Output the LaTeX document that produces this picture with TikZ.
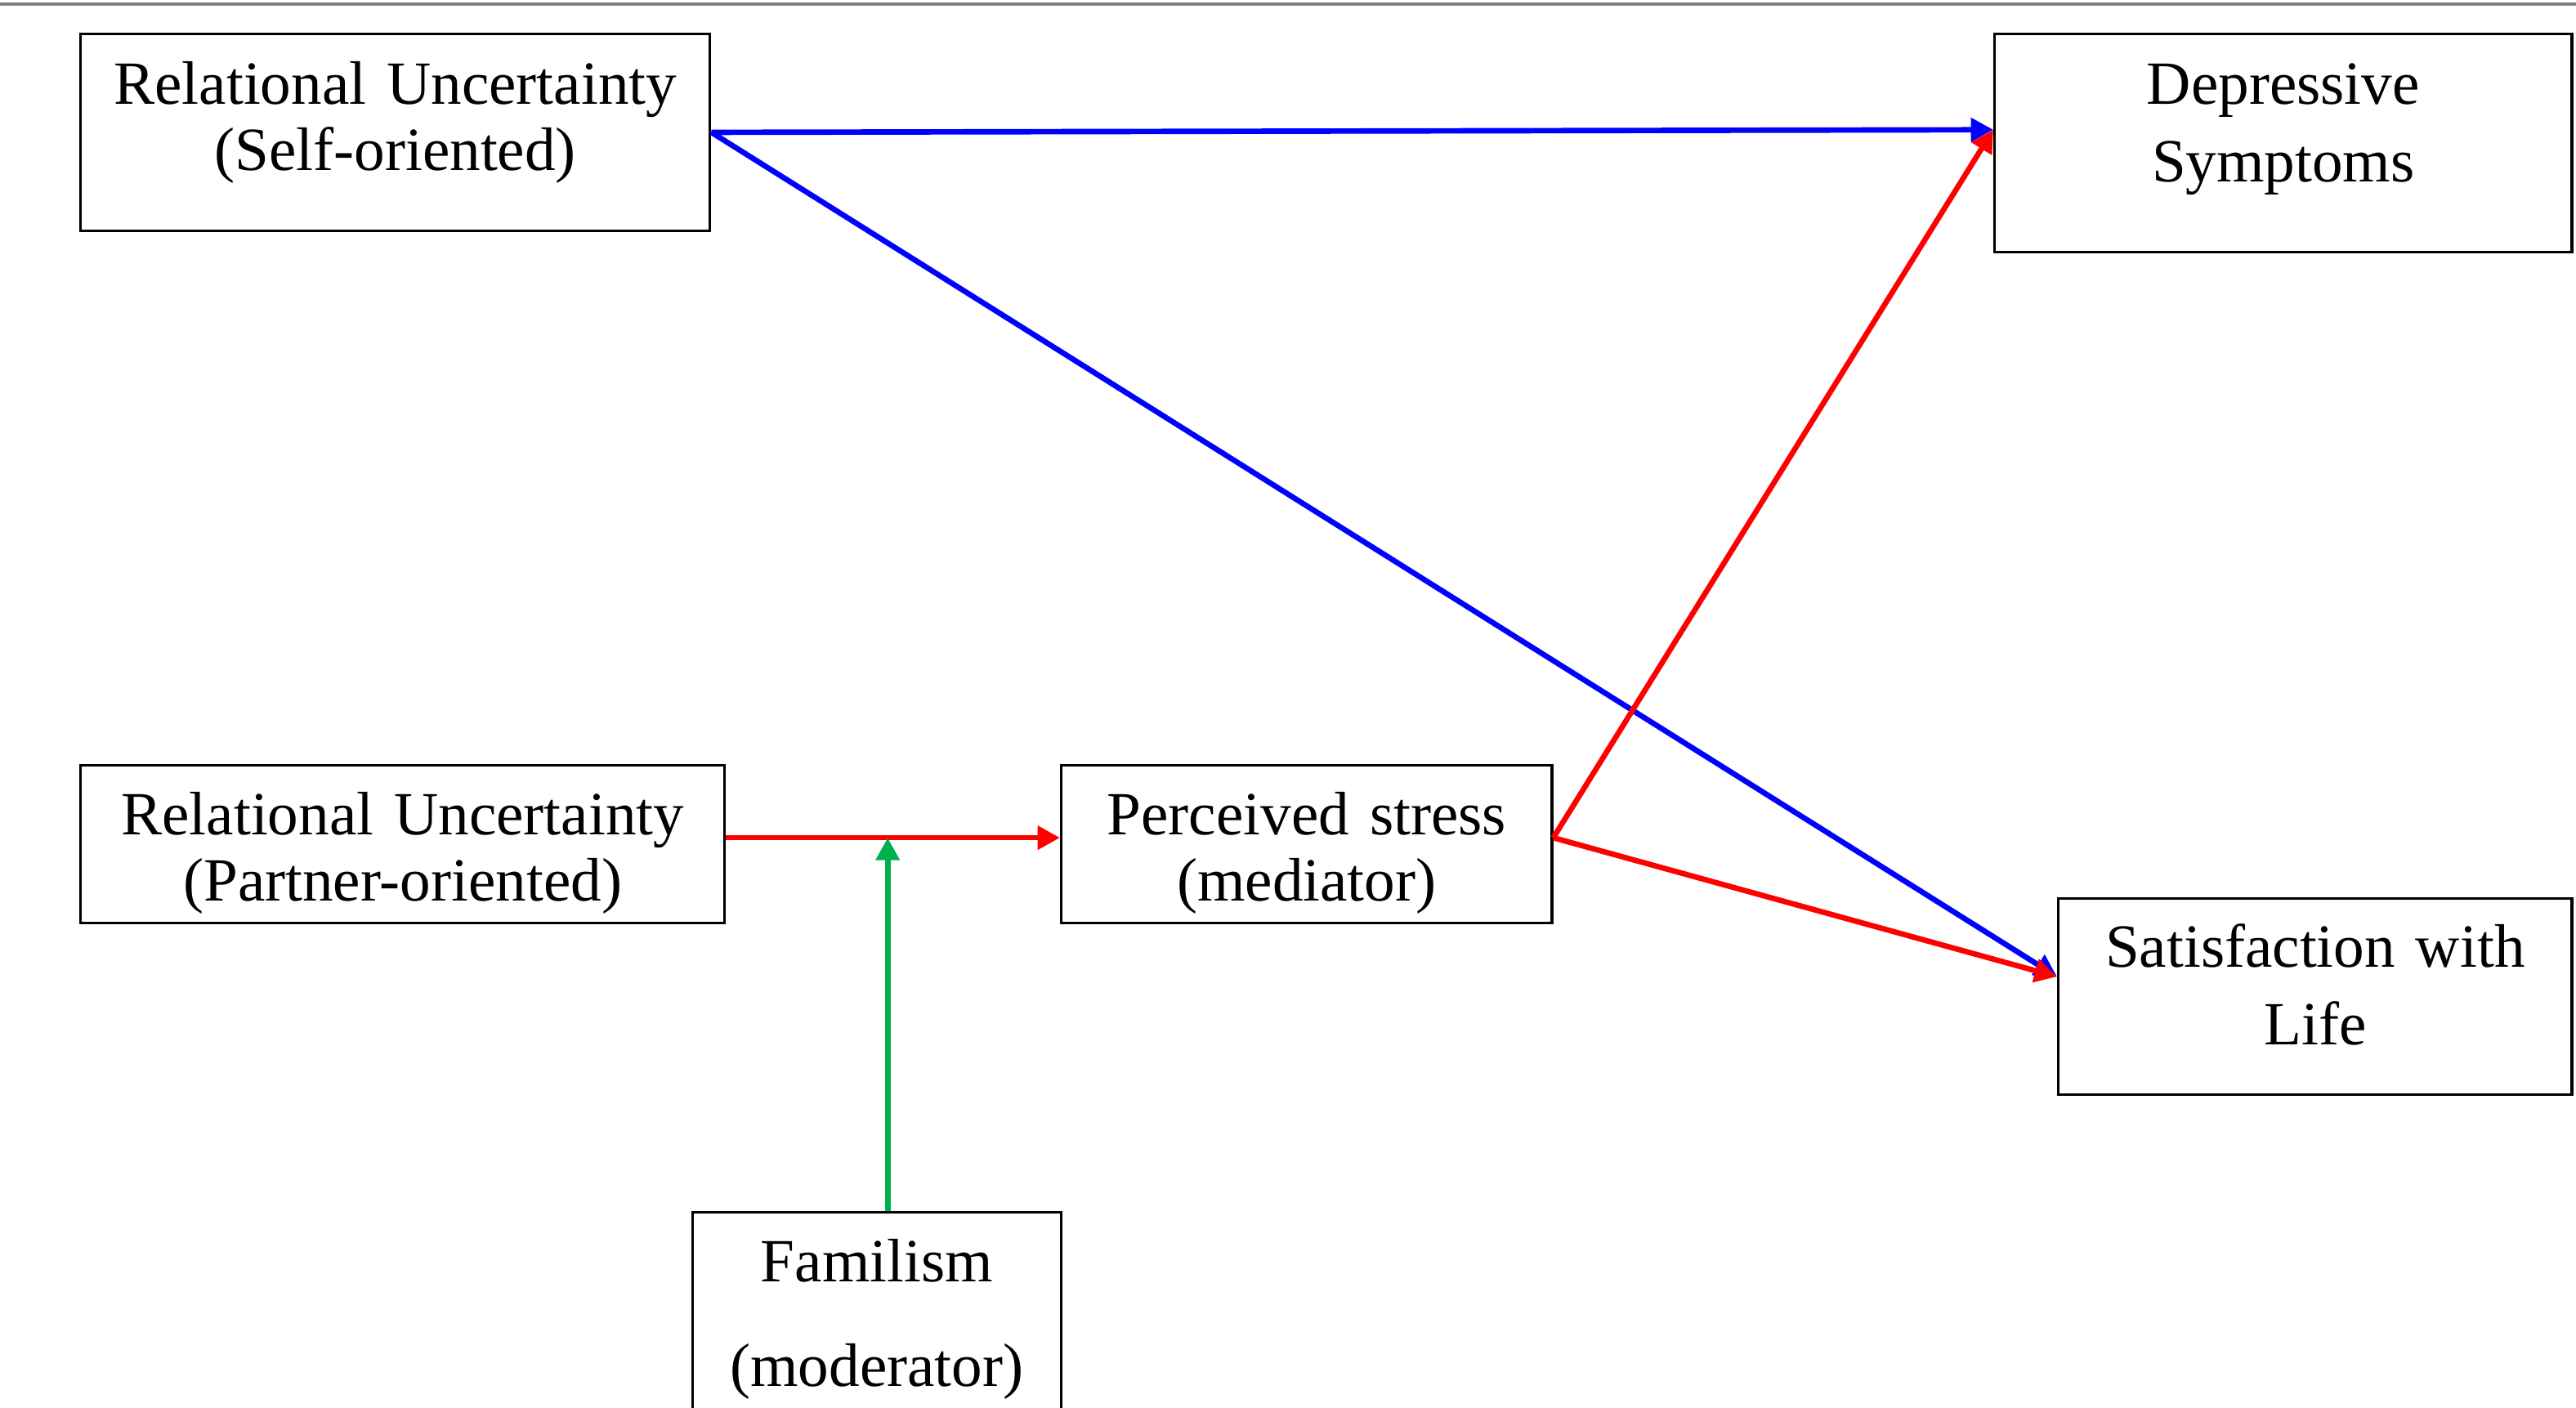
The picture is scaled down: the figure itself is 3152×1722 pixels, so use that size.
\documentclass[tikz,border=0pt]{standalone}
\usepackage{fontspec}
\setmainfont{Liberation Serif}
\usetikzlibrary{arrows.meta,calc}
\definecolor{selfblue}{RGB}{0,0,255}
\definecolor{stressred}{RGB}{255,0,0}
\definecolor{modgreen}{RGB}{0,176,80}

\begin{document}
\begin{tikzpicture}[x=0.005cm,y=0.005cm,>={Triangle[length=3.9pt,width=4pt]},
  box/.style={draw,line width=0.45pt,inner sep=0pt,align=center,anchor=north west},
  tight/.style={font=\fontsize{10.7}{11.5}\selectfont},
  loose/.style={font=\fontsize{10.7}{13.5}\selectfont},
  link/.style={line width=0.95pt,->}]
  \useasboundingbox (0,0) rectangle (3152,1722);
  \draw[line width=0.45pt,black!50] (0,1717)--(3152,1717);

  % predictors
  \node[box,tight,text width=38.55mm,text height=4.3mm,text depth=7.75mm] (self) at (97,1682)
    {Relational Uncertainty\\(Self-oriented)};
  \node[box,tight,text width=39.45mm,text height=4.25mm,text depth=5.4mm] (partner) at (97,787)
    {Relational Uncertainty\\(Partner-oriented)};

  % mediator and moderator
  \node[box,tight,text width=30.05mm,text height=4.25mm,text depth=5.4mm] (stress) at (1297,787)
    {Perceived stress\\(mediator)};
  \node[box,font=\fontsize{10.7}{18.2}\selectfont,text width=22.55mm,text height=4.25mm,
    text depth=9.5mm] (fam) at (846,240) {Familism\\(moderator)};

  % outcomes
  \node[box,loose,text width=35.35mm,text height=4.3mm,text depth=9.05mm] (dep) at (2439,1682)
    {Depressive\\Symptoms};
  \node[box,loose,text width=31.45mm,text height=4.2mm,text depth=7.8mm] (sat) at (2517,624)
    {Satisfaction with\\Life};

  \coordinate (depin) at ($(dep.north west)!0.44!(dep.south west)$);
  \coordinate (satin) at ($(sat.north west)!0.40!(sat.south west)$);
  \coordinate (partout) at ($(partner.north east)!0.46!(partner.south east)$);
  \coordinate (stressin) at ($(stress.north west)!0.46!(stress.south west)$);
  \coordinate (stressout) at ($(stress.north east)!0.46!(stress.south east)$);
  \coordinate (mod) at ($(partout)!0.484!(stressin)$);

  \draw[link,selfblue] (self.east) -- (depin);
  \draw[link,selfblue] (self.east) -- (satin);
  \draw[link,stressred] (partout) -- (stressin);
  \draw[link,stressred] (stressout) -- (depin);
  \draw[link,stressred] (stressout) -- (satin);
  \draw[link,modgreen] (mod |- fam.north) -- (mod);
\end{tikzpicture}
\end{document}
